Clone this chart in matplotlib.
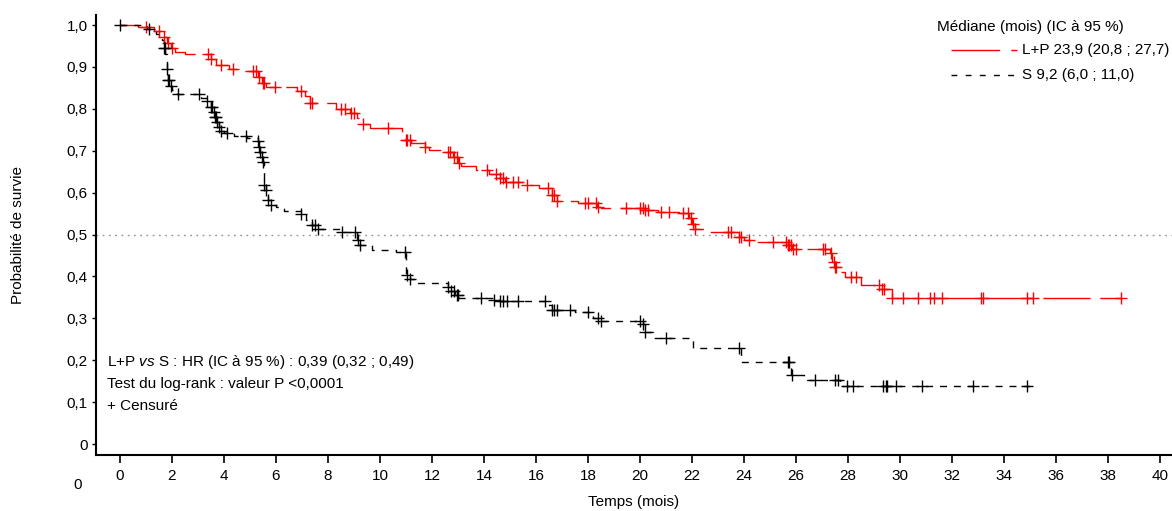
import numpy as np
import matplotlib
matplotlib.use("Agg")
import matplotlib.pyplot as plt
from matplotlib.lines import Line2D

plt.rcParams['font.family'] = ['Liberation Sans', 'DejaVu Sans']
plt.rcParams['mathtext.fontset'] = 'custom'
plt.rcParams['mathtext.it'] = 'Liberation Sans:italic'
plt.rcParams['mathtext.rm'] = 'Liberation Sans'
plt.rcParams['lines.scale_dashes'] = False

# ---------------- data ----------------
lp_step_t = [0.7, 1.3, 1.6, 1.8, 1.95, 2.1, 2.5, 3.5, 3.7, 4.2, 4.5, 5.3, 5.45, 5.6, 6.8, 7.1, 7.3,
             8.3, 8.85, 9.1, 9.3, 9.6, 10.85, 11.0, 11.2, 11.75, 11.9, 12.6, 12.8, 13.0, 13.1, 13.7,
             14.2, 14.6, 14.8, 15.6, 16.1, 16.6, 16.8, 17.6, 18.35, 18.5, 20.2, 20.7, 21.5, 21.9,
             22.0, 22.1, 22.7, 23.8, 24.0, 24.3, 25.7, 25.85, 27.3, 27.4, 27.5, 27.6, 27.9, 28.5,
             29.3, 29.7]
lp_step_s = [0.995, 0.985, 0.972, 0.958, 0.945, 0.935, 0.93, 0.92, 0.905, 0.895, 0.89, 0.876, 0.862,
             0.852, 0.842, 0.83, 0.815, 0.80, 0.79, 0.778, 0.765, 0.755, 0.74, 0.726, 0.718, 0.709,
             0.702, 0.697, 0.685, 0.672, 0.663, 0.654, 0.644, 0.635, 0.625, 0.618, 0.611, 0.594,
             0.58, 0.575, 0.566, 0.563, 0.558, 0.554, 0.551, 0.54, 0.525, 0.513, 0.506, 0.495,
             0.487, 0.483, 0.475, 0.465, 0.455, 0.434, 0.422, 0.41, 0.398, 0.379, 0.37, 0.348]
lp_end = 38.5
lp_censor = [1.0, 1.5, 1.7, 1.85, 2.0, 3.4, 3.5, 3.9, 4.35, 5.1, 5.25, 5.35, 5.5, 5.55, 5.95, 6.95,
             7.3, 7.4, 8.5, 8.65, 8.9, 9.0, 9.35, 10.3, 11.0, 11.05, 11.15, 11.75, 12.6, 12.7, 12.85,
             12.95, 13.05, 14.1, 14.45, 14.6, 14.75, 14.85, 15.1, 15.3, 15.65, 16.45, 16.6, 16.7,
             16.8, 17.9, 18.0, 18.3, 18.4, 19.45, 20.0, 20.1, 20.2, 20.3, 20.8, 21.1, 21.65, 21.85,
             21.95, 22.05, 22.1, 23.4, 23.5, 23.8, 23.9, 24.2, 25.1, 25.6, 25.7, 25.75, 25.8, 25.9,
             26.0, 27.05, 27.1, 27.35, 27.45, 27.5, 27.55, 28.1, 28.3, 29.2, 29.3, 29.4, 29.7, 30.1,
             30.7, 31.15, 31.3, 31.6, 33.1, 33.2, 34.9, 35.1, 38.5]

s_step_t = [1.05, 1.4, 1.6, 1.7, 1.75, 1.8, 1.85, 1.9, 2.0, 2.2, 3.1, 3.35, 3.5, 3.6, 3.65, 3.75, 3.8,
            3.9, 4.0, 4.4, 4.9, 5.3, 5.35, 5.4, 5.45, 5.5, 5.55, 5.6, 5.65, 5.7, 5.8, 6.0, 6.3, 6.95,
            7.15, 7.4, 7.55, 8.5, 9.1, 9.25, 9.7, 10.6, 11.0, 11.15, 11.3, 12.6, 12.75, 12.9, 13.05,
            14.4, 14.6, 16.4, 16.6, 17.5, 18.2, 18.5, 20.1, 20.2, 20.5, 22.05, 23.9, 25.8, 26.3, 27.7]
s_step_s = [0.99, 0.978, 0.965, 0.945, 0.93, 0.895, 0.87, 0.855, 0.845, 0.835, 0.826, 0.82, 0.805,
            0.792, 0.78, 0.768, 0.757, 0.748, 0.742, 0.735, 0.73, 0.723, 0.709, 0.697, 0.685, 0.673,
            0.618, 0.606, 0.594, 0.582, 0.57, 0.566, 0.556, 0.549, 0.535, 0.523, 0.513, 0.506, 0.487,
            0.475, 0.463, 0.458, 0.403, 0.395, 0.384, 0.375, 0.365, 0.356, 0.348, 0.344, 0.341,
            0.332, 0.32, 0.315, 0.30, 0.294, 0.286, 0.267, 0.253, 0.229, 0.195, 0.165, 0.153, 0.138]
s_end = 35.2
s_censor = [0.0, 1.1, 1.7, 1.72, 1.8, 1.85, 1.88, 1.95, 2.25, 3.05, 3.35, 3.5, 3.55, 3.6, 3.65, 3.7,
            3.75, 3.8, 3.9, 4.1, 4.85, 5.3, 5.35, 5.4, 5.45, 5.5, 5.55, 5.6, 5.7, 5.8, 6.95, 7.4, 7.5,
            7.6, 8.55, 9.05, 9.15, 9.25, 10.95, 11.05, 11.15, 12.6, 12.75, 12.85, 12.95, 13.0, 13.9,
            14.4, 14.6, 14.75, 14.9, 15.3, 16.35, 16.6, 16.7, 16.8, 17.3, 18.0, 18.4, 18.5, 20.0,
            20.1, 20.2, 21.0, 23.8, 25.7, 25.75, 25.85, 26.75, 27.5, 27.6, 27.95, 28.2, 29.35, 29.45,
            29.5, 29.85, 30.85, 32.8, 34.9]

x_ticks = list(range(0, 41, 2))
y_ticks = [0, 0.1, 0.2, 0.3, 0.4, 0.5, 0.6, 0.7, 0.8, 0.9, 1.0]
y_labels = ['0', '0,1', '0,2', '0,3', '0,4', '0,5', '0,6', '0,7', '0,8', '0,9', '1,0']

RED = '#ff0000'
BLACK = '#000000'


def surv_at(times, steps_t, steps_s):
    st = np.array(steps_t)
    ss = np.concatenate([[1.0], np.array(steps_s)])
    idx = np.searchsorted(st, np.array(times), side='right')
    return ss[idx]


fig = plt.figure(figsize=(11.72, 5.11), dpi=100)
ax = fig.add_axes([0.0819, 0.1096, 0.918, 0.861])
ax.set_xlim(-0.923, 40.46)
ax.set_ylim(-0.026, 1.024)

ax.axhline(0.5, color='#909090', lw=1.0, dashes=(1.2, 3.3), zorder=1)

for steps_t, steps_s, end, cens, col, dash in [
        (lp_step_t, lp_step_s, lp_end, lp_censor, RED, (34, 7)),
        (s_step_t, s_step_s, s_end, s_censor, BLACK, (5, 5))]:
    tt = [0.0] + steps_t + [end]
    ss = [1.0] + steps_s + [steps_s[-1]]
    ax.step(tt, ss, where='post', color=col, lw=1.0, dashes=dash, zorder=3)
    ax.plot(cens, surv_at(cens, steps_t, steps_s), linestyle='none', marker='+',
            markersize=8, markeredgewidth=1.0, color=col, zorder=4)

for sp in ['top', 'right']:
    ax.spines[sp].set_visible(False)
for sp in ['left', 'bottom']:
    ax.spines[sp].set_linewidth(1.5)

fs = 11
ax.set_xticks(x_ticks)
ax.set_xticklabels([str(v) for v in x_ticks])
ax.set_yticks(y_ticks)
ax.set_yticklabels(y_labels)
ax.tick_params(axis='x', direction='out', length=6, width=1.2, labelsize=fs, pad=4)
ax.tick_params(axis='y', direction='out', length=3, width=1.0, labelsize=fs, pad=3)

ax.set_xlabel('Temps (mois)', fontsize=fs, labelpad=9)
ax.set_ylabel('Probabilité de survie', fontsize=fs, labelpad=30)

# stray "0" below y axis
fig.text(78 / 1172, 1 - 485 / 511, '0', fontsize=fs, ha='center', va='center')

# annotations
ax.text(0.0105, 0.212, 'L+P $\\mathit{vs}$ S : HR (IC à 95 %) : 0,39 (0,32 ; 0,49)', transform=ax.transAxes,
        fontsize=fs, ha='left', va='center')
ax.text(0.0105, 0.161, 'Test du log-rank : valeur P <0,0001', transform=ax.transAxes,
        fontsize=fs, ha='left', va='center')
ax.text(0.0105, 0.112, '+ Censuré', transform=ax.transAxes, fontsize=fs, ha='left', va='center')

# legend (manual)
W, H = 1172, 511
fig.text(937 / W, 1 - 27 / H, 'Médiane (mois) (IC à 95 %)', fontsize=fs, ha='left', va='center')
fig.add_artist(Line2D([951 / W, 1017 / W], [1 - 50 / H, 1 - 50 / H], color=RED, lw=1.0,
                      dashes=(35, 8), transform=fig.transFigure))
fig.text(1022 / W, 1 - 50 / H, 'L+P 23,9 (20,8 ; 27,7)', fontsize=fs, ha='left', va='center')
fig.add_artist(Line2D([951 / W, 1017 / W], [1 - 75 / H, 1 - 75 / H], color=BLACK, lw=1.0,
                      dashes=(4.2, 6.0), transform=fig.transFigure))
fig.text(1022 / W, 1 - 75 / H, 'S 9,2 (6,0 ; 11,0)', fontsize=fs, ha='left', va='center')

fig.savefig('out.png', dpi=100)
